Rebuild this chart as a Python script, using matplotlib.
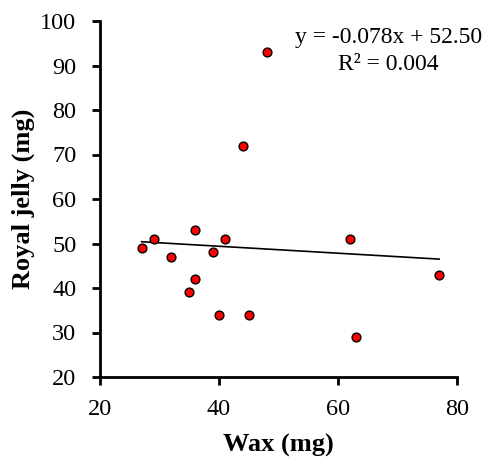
import numpy as np
import matplotlib
matplotlib.use("Agg")
import matplotlib.pyplot as plt

plt.rcParams['font.family'] = ['Liberation Serif', 'DejaVu Serif']

# wax (mg) vs royal jelly (mg)
wax = [27, 29, 32, 36, 36, 35, 39, 41, 40, 45, 62, 77, 63, 44, 48]
royal_jelly = [49, 51, 47, 53, 42, 39, 48, 51, 34, 34, 51, 43, 29, 72, 93]

slope = -0.078
intercept = 52.50
r2 = 0.004

x_ticks = [20, 40, 60, 80]
y_ticks = [20, 30, 40, 50, 60, 70, 80, 90, 100]

fig = plt.figure(figsize=(4.88, 4.58), dpi=100)
ax = fig.add_axes([100 / 488, 1 - 377 / 458, 357 / 488, 356 / 458])

ax.scatter(wax, royal_jelly, s=40, c='#ff0000', edgecolors='black',
           linewidths=1.0, zorder=3)

xs = np.array([min(wax), max(wax)])
ax.plot(xs, slope * xs + intercept, color='black', linewidth=1.2, zorder=2)

ax.text(0.807, 0.955, f"y = {slope:.3f}x + {intercept:.2f}", transform=ax.transAxes,
        ha='center', va='center', fontsize=17)
ax.text(0.807, 0.879, f"R² = {r2:.3f}", transform=ax.transAxes,
        ha='center', va='center', fontsize=17)

ax.set_xlim(20, 80)
ax.set_ylim(20, 100)
ax.set_xticks(x_ticks)
ax.set_yticks(y_ticks)

for side in ['top', 'right']:
    ax.spines[side].set_visible(False)
for side in ['left', 'bottom']:
    ax.spines[side].set_linewidth(2)

ax.tick_params(axis='both', direction='out', length=6, width=2, labelsize=17.5)
ax.tick_params(axis='x', pad=10)
ax.tick_params(axis='y', pad=11)

ax.set_xlabel("Wax (mg)", fontsize=19, fontweight='bold', labelpad=10)
ax.set_ylabel("Royal jelly (mg)", fontsize=19, fontweight='bold', labelpad=4)

fig.savefig("out.png", dpi=100)
